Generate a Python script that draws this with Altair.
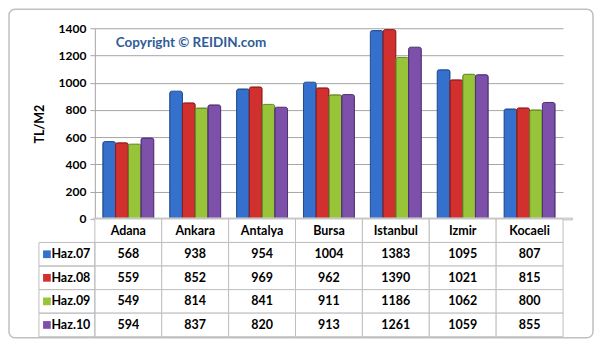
import altair as alt
import pandas as pd

cities = ["Adana", "Ankara", "Antalya", "Bursa", "Istanbul", "Izmir", "Kocaeli"]
series = ["Haz.07", "Haz.08", "Haz.09", "Haz.10"]
haz07 = [568, 938, 954, 1004, 1383, 1095, 807]
haz08 = [559, 852, 969, 962, 1390, 1021, 815]
haz09 = [549, 814, 841, 911, 1186, 1062, 800]
haz10 = [594, 837, 820, 913, 1261, 1059, 855]
colors = ["#3470CC", "#D2302E", "#98C43A", "#7D51AA"]
dark_colors = ["#1E4A8E", "#8E1D1C", "#5F8423", "#4D2F72"]
y_ticks = [0, 200, 400, 600, 800, 1000, 1200, 1400]
header = " "

values = [haz07, haz08, haz09, haz10]
rows = []
for s, vals in zip(series, values):
    for c, v in zip(cities, vals):
        rows.append({"city": c, "series": s, "value": v})
df = pd.DataFrame(rows)

cells = [{"city": c, "row": header, "label": c} for c in cities]
for s, vals in zip(series, values):
    for c, v in zip(cities, vals):
        cells.append({"city": c, "row": s, "label": str(v)})
tdf = pd.DataFrame(cells)
legdf = pd.DataFrame({"row": series})
one = pd.DataFrame({"a": [0]})

W = 469
FONT = "Lato"
FS = 12.5

xscale = alt.Scale(domain=cities, paddingInner=0, paddingOuter=0)
cscale = alt.Scale(domain=series, range=colors)
sscale = alt.Scale(domain=series, range=dark_colors)

bars = alt.Chart(df).mark_bar(strokeWidth=1, cornerRadiusTopLeft=2, cornerRadiusTopRight=2).encode(
    x=alt.X("city:N", sort=cities, scale=xscale, axis=None),
    xOffset=alt.XOffset("series:N", sort=series, scale=alt.Scale(paddingInner=0, paddingOuter=0.625)),
    y=alt.Y("value:Q", scale=alt.Scale(domain=[0, 1400], nice=False),
            axis=alt.Axis(values=y_ticks, tickCount=8, format="d", labelOverlap=False, title="TL/M2",
                          grid=True, gridColor="#A6A6A6",
                          domainColor="#A6A6A6", tickColor="#A6A6A6", tickSize=5,
                          labelFont=FONT, labelFontSize=12, labelFontWeight="bold", labelColor="#000",
                          titleFont=FONT, titleFontSize=12.5, titleFontWeight="bold", titleColor="#000",
                          titlePadding=12, labelPadding=4)),
    color=alt.Color("series:N", scale=cscale, legend=None),
    stroke=alt.Stroke("series:N", scale=sscale, legend=None),
)

floor = alt.Chart(one).mark_rule(color="#CFCFCF", strokeWidth=3).encode(
    y=alt.value(191), x=alt.value(-2), x2=alt.value(W + 10)
)

frame = alt.Chart(one).mark_rect(fillOpacity=0, stroke="#C0C0C0", strokeWidth=1.5, cornerRadius=6).encode(
    x=alt.value(-86), x2=alt.value(499), y=alt.value(-19), y2=alt.value(310)
)

copyright_text = alt.Chart(one).mark_text(
    text="Copyright © REIDIN.com", align="left", baseline="middle",
    font=FONT, fontSize=13.5, fontWeight="bold", color="#2E5C99"
).encode(x=alt.value(21), y=alt.value(15))

top = alt.layer(frame, bars, floor, copyright_text).properties(width=W, height=191)

yscale_t = alt.Scale(domain=[header] + series, paddingInner=0, paddingOuter=0)

cell_rects = alt.Chart(tdf).mark_rect(fill="white", stroke="#BFBFBF", strokeWidth=1).encode(
    x=alt.X("city:N", sort=cities, scale=xscale, axis=None),
    y=alt.Y("row:N", scale=yscale_t,
            axis=alt.Axis(title=None, ticks=False, domain=False, labelPadding=5,
                          labelFont=FONT, labelFontSize=FS, labelFontWeight="bold", labelColor="#000")),
)

cell_text = alt.Chart(tdf).mark_text(font=FONT, fontSize=FS, fontWeight="bold", color="#000").encode(
    x=alt.X("city:N", sort=cities, scale=xscale, axis=None),
    y=alt.Y("row:N", scale=yscale_t),
    text="label:N",
)

leg_rects = alt.Chart(legdf).mark_rect(fillOpacity=0, stroke="#BFBFBF", strokeWidth=1).encode(
    x=alt.value(-56), x2=alt.value(0),
    y=alt.Y("row:N", scale=yscale_t),
)

leg_sq = alt.Chart(legdf).mark_point(shape="square", filled=True, size=60, opacity=1,
                                     strokeWidth=1).encode(
    x=alt.value(-48),
    y=alt.Y("row:N", scale=yscale_t),
    color=alt.Color("row:N", scale=cscale, legend=None),
)

table = alt.layer(cell_rects, leg_rects, cell_text, leg_sq).properties(width=W, height=118)

chart = alt.vconcat(top, table, spacing=0, bounds="flush").properties(padding=0).configure_view(stroke=None)

chart.save("out.html", embed_options={"renderer": "svg", "actions": False})
